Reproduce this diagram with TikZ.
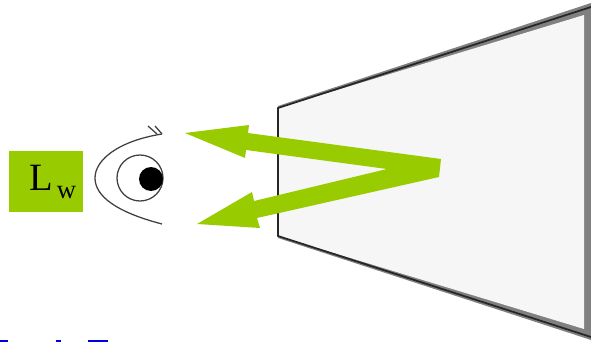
\documentclass[tikz,border=0pt]{standalone}
\usepackage{fontspec}
\setmainfont{Liberation Serif}
\usetikzlibrary{positioning}
\definecolor{RayGreen}{RGB}{153, 204, 0}
\definecolor{ScreenFill}{RGB}{246, 246, 246}
\definecolor{ScreenEdge}{RGB}{128, 128, 128}
\tikzset{eyeline/.style={draw=black!75,line width=0.95pt}}
\begin{document}
\begin{tikzpicture}[x=0.75pt,y=-0.75pt]
	\useasboundingbox (0,0) rectangle (591,342);
	% screen
	\fill[ScreenEdge] (278,106) -- (591,3) -- (591,340) -- (278,238) -- cycle;
	\fill[ScreenFill] (278,108) -- (584,15) -- (584,329) -- (278,236) -- cycle;
	\draw[black!85,line width=1.3pt] (591,7) -- (278,108) -- (278,236) -- (591,337);
	% rays
	\fill[RayGreen] (185,133) -- (249,125) -- (248,133) -- (441,159) -- (439,177) -- (257,218) -- (260,228) -- (197,224) -- (252,192) -- (254,201) -- (387,169) -- (246,150) -- (245,158) -- cycle;
	% eye
	\draw[eyeline] (148,126) -- (157,134);
	\draw[eyeline] (155,126) -- (162,134);
	\draw[eyeline] (162,134) .. controls (118,141) and (95,160) .. (95,178) .. controls (95,196) and (116,212) .. (162,224);
	\draw[eyeline] (140,178) circle (23);
	\fill[black] (151,179) circle (12);
	% label
	\node[fill=RayGreen,minimum width=55.5pt,minimum height=45.75pt,inner sep=0pt] (lw) at (46,181.5) {};
	\node[anchor=base west,inner sep=0pt] (lwtext) at (29,190) {\fontsize{29}{29}\selectfont L\kern3pt\raisebox{-6pt}{\fontsize{20}{20}\selectfont w}};
	% cut-off line below
	\fill[blue!90!black] (0,340) rectangle (8,342);
	\fill[blue!90!black] (56,340) rectangle (61,342);
	\fill[blue!90!black] (88,340) rectangle (108,342);
\end{tikzpicture}
\end{document}
